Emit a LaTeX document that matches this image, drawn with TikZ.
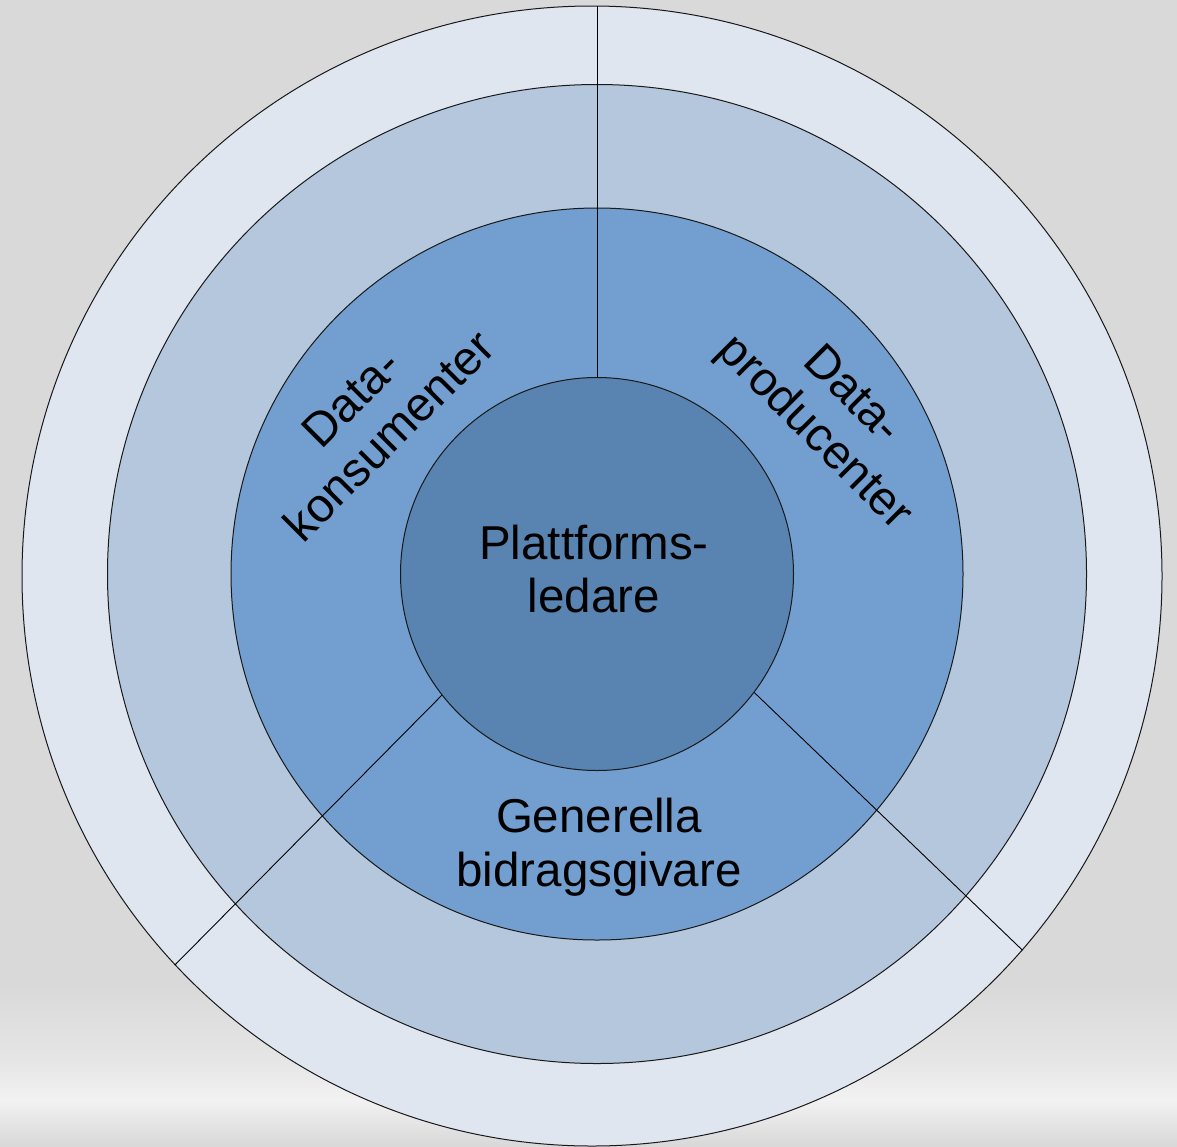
\documentclass[tikz,border=0pt]{standalone}
\usepackage{fontspec}
\setmainfont{Liberation Sans}
\definecolor{bggray}{HTML}{D9D9D9}
\definecolor{bgA}{HTML}{E6E6E6}
\definecolor{bgB}{HTML}{F2F2F2}
\definecolor{bgC}{HTML}{D8D8D8}
\definecolor{ringA}{HTML}{DFE6F0}
\definecolor{ringB}{HTML}{B4C7DD}
\definecolor{ringC}{HTML}{729FCF}
\definecolor{ringD}{HTML}{5983B0}
\begin{document}
\begin{tikzpicture}[x=1pt,y=-1pt,
  ring/.style={circle, draw=black!90, line width=1pt, inner sep=0pt},
  lbl/.style={font=\fontsize{47.5pt}{53.5pt}\selectfont, align=center, inner sep=0pt, text=black},
  divider/.style={draw=black, line width=0.9pt}]
\useasboundingbox (0,0) rectangle (1177,1146);
% background
\fill[bggray] (0,0) rectangle (1177,1146);
\shade[top color=bggray, bottom color=bgA] (0,985) rectangle (1177,1062);
\shade[top color=bgA, bottom color=bgB] (0,1062) rectangle (1177,1100);
\shade[top color=bgB, bottom color=bgC] (0,1100) rectangle (1177,1146);
% rings
\node[ring, fill=ringA, minimum size=1140pt] (outer) at (592,576) {};
\node[ring, fill=ringB, minimum size=979pt] (mid) at (597,574) {};
\node[ring, fill=ringC, minimum size=732pt] (third) at (597,574) {};
\node[ring, fill=ringD, minimum size=393pt] (inner) at (597,574) {};
% dividers
\draw[divider] (inner.north) -- (inner.north |- outer.north);
\draw[divider] (inner.218) -- (outer.223);
\draw[divider] (inner.323) -- (outer.319);
% labels
\node[lbl] (lead) at (594,569) {Plattforms-\\ledare};
\node[lbl] (gen) at (599,847) {Generella\\bidragsgivare};
\node[lbl, rotate=45] (kons) at (370,417) {Data-\\konsumenter};
\node[lbl, rotate=-45] (prod) at (832,415) {Data-\\producenter};
\end{tikzpicture}
\end{document}
